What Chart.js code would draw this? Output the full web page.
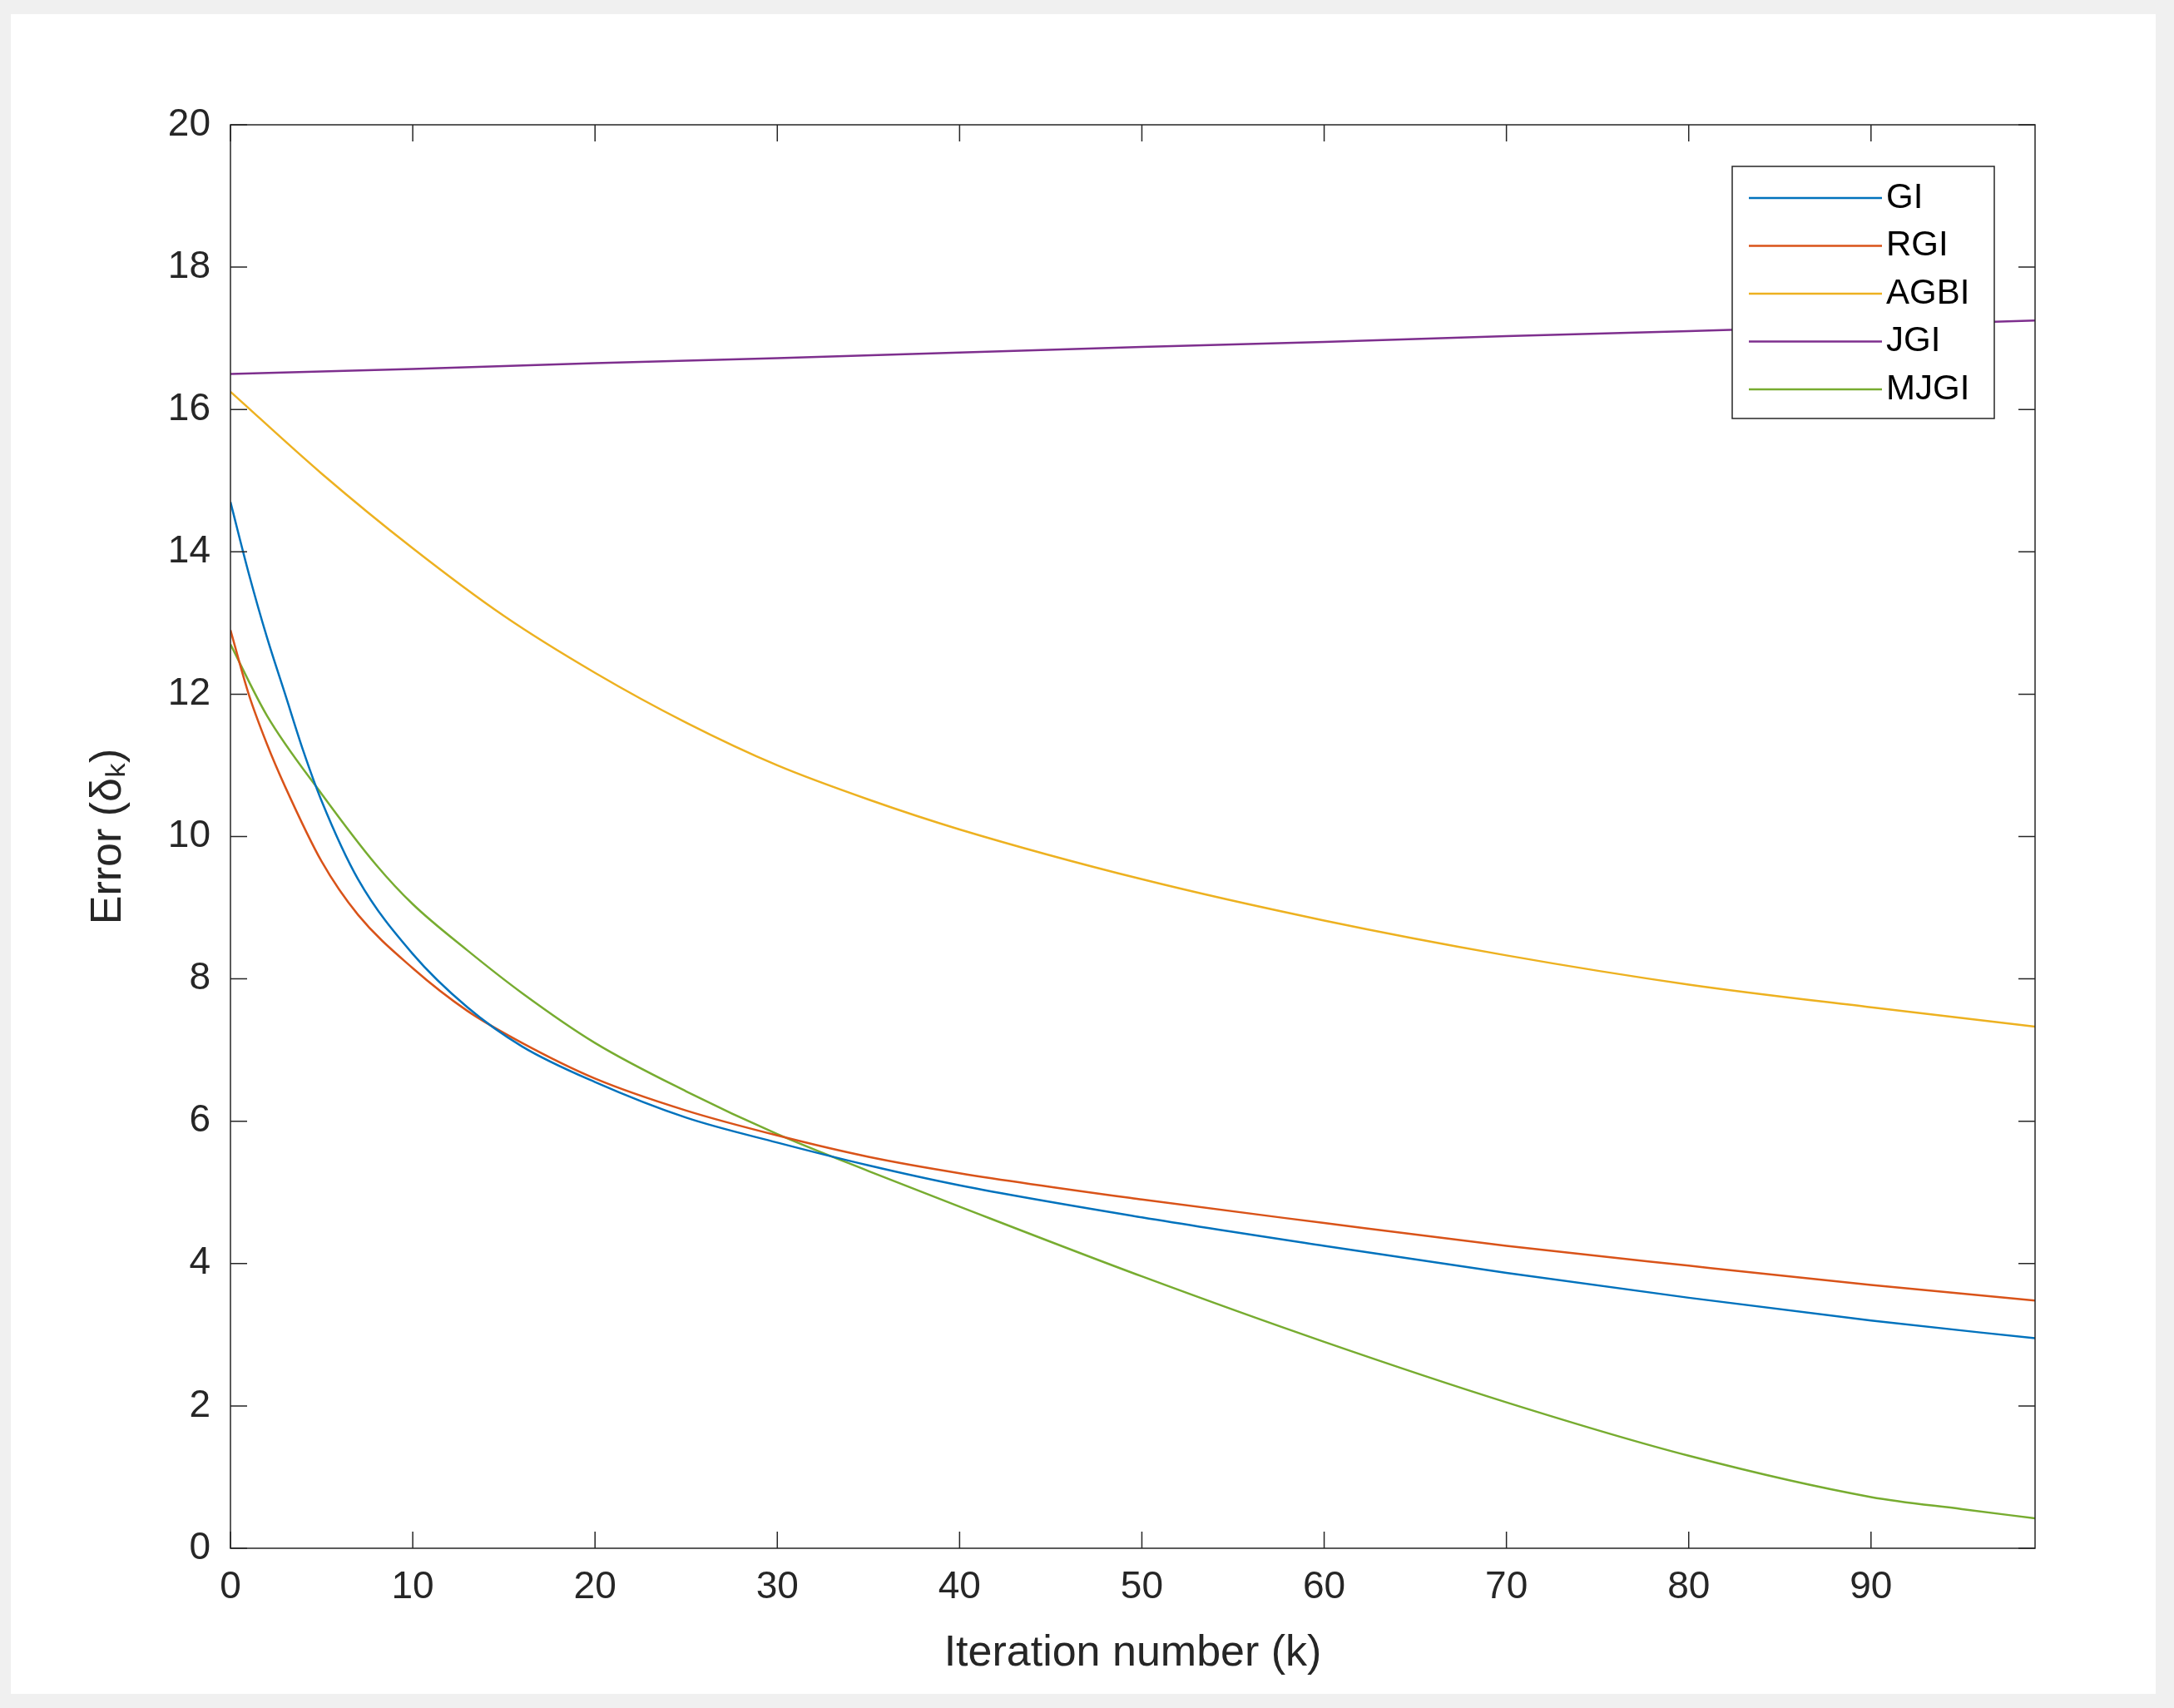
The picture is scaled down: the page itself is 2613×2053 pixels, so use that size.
<!DOCTYPE html>
<html><head><meta charset="utf-8">
<script src="https://cdn.jsdelivr.net/npm/chart.js@4.4.1/dist/chart.umd.min.js"></script>
<style>html,body{margin:0;padding:0;background:#f0f0f0}#c{display:block}</style>
</head><body><canvas id="c" width="2613" height="2053"></canvas>
<script>
const seriesNames = ['GI','RGI','AGBI','JGI','MJGI'];
const seriesColors = ['#0072BD','#D95319','#EDB120','#7E2F8E','#77AC30'];
const kGI   = [0,1,2,3,4,5,7,10,13,16,20,25,30,35,40,50,60,70,80,90,99];
const vGI   = [14.7,13.7,12.8,12.0,11.2,10.5,9.4,8.35,7.6,7.05,6.55,6.05,5.7,5.38,5.1,4.65,4.25,3.87,3.52,3.2,2.95];
const kRGI  = [0,1,2,3,5,7,10,13,16,20,25,30,35,40,50,60,70,80,90,99];
const vRGI  = [12.9,12.0,11.3,10.7,9.65,8.9,8.15,7.55,7.1,6.6,6.15,5.8,5.5,5.27,4.9,4.57,4.25,3.97,3.7,3.48];
const kAGBI = [0,5,10,15,20,25,30,35,40,50,60,70,80,90,99];
const vAGBI = [16.25,15.1,14.05,13.1,12.3,11.6,11.0,10.52,10.1,9.4,8.82,8.33,7.92,7.6,7.33];
const kJGI  = [0,10,20,30,40,50,60,70,80,90,99];
const vJGI  = [16.5,16.57,16.65,16.72,16.8,16.88,16.95,17.03,17.1,17.18,17.25];
const kMJGI = [0,2,5,8,10,13,16,20,25,30,35,40,50,60,70,80,90,95,99];
const vMJGI = [12.7,11.7,10.6,9.6,9.05,8.4,7.8,7.1,6.42,5.82,5.3,4.8,3.82,2.9,2.05,1.3,0.72,0.55,0.42];
const xTicks = [0,10,20,30,40,50,60,70,80,90];
const yTicks = [0,2,4,6,8,10,12,14,16,18,20];

const ks=[kGI,kRGI,kAGBI,kJGI,kMJGI], vs=[vGI,vRGI,vAGBI,vJGI,vMJGI];
const datasets = seriesNames.map((n,i)=>({label:n,data:ks[i].map((k,j)=>({x:k,y:vs[i][j]})),
  borderColor:seriesColors[i],borderWidth:2.5,pointRadius:0,fill:false,cubicInterpolationMode:'monotone'}));
const FONT='"Liberation Sans", Arial, sans-serif';
const deco={id:'deco',
 beforeDraw(c){const x=c.ctx;x.save();x.fillStyle='#f0f0f0';x.fillRect(0,0,c.width,c.height);
   x.fillStyle='#fff';x.fillRect(13,17,2578,2019);x.restore();},
 afterDraw(c){const x=c.ctx,a=c.chartArea,sx=c.scales.x,sy=c.scales.y;x.save();
   x.strokeStyle='#262626';x.lineWidth=1.5;x.strokeRect(a.left,a.top,a.right-a.left,a.bottom-a.top);
   const L=20;x.beginPath();
   xTicks.forEach(t=>{const p=sx.getPixelForValue(t);x.moveTo(p,a.bottom);x.lineTo(p,a.bottom-L);x.moveTo(p,a.top);x.lineTo(p,a.top+L);});
   yTicks.forEach(t=>{const p=sy.getPixelForValue(t);x.moveTo(a.left,p);x.lineTo(a.left+L,p);x.moveTo(a.right,p);x.lineTo(a.right-L,p);});
   x.stroke();
   const bx=2082,by=200,bw=315,bh=303;x.fillStyle='#fff';x.fillRect(bx,by,bw,bh);x.strokeRect(bx,by,bw,bh);
   x.font='42px '+FONT;x.textBaseline='middle';
   c.data.datasets.forEach((d,i)=>{const yy=by+38+i*57.5;x.strokeStyle=d.borderColor;x.lineWidth=2.5;
     x.beginPath();x.moveTo(bx+20,yy);x.lineTo(bx+180,yy);x.stroke();x.fillStyle='#000';x.fillText(d.label,bx+185,yy);});
   x.restore();}};
new Chart(document.getElementById('c'),{type:'line',data:{datasets},plugins:[deco],
 options:{responsive:false,animation:false,layout:{padding:{top:150,right:167,left:95,bottom:30}},
  plugins:{legend:{display:false},tooltip:{enabled:false}},
  scales:{
   x:{type:'linear',min:0,max:99,grid:{display:false},border:{display:false},
      afterBuildTicks:s=>{s.ticks=xTicks.map(v=>({value:v}));},
      afterFit:s=>{s.height=162;},
      ticks:{color:'#262626',font:{size:46,family:FONT},padding:12,maxRotation:0},
      title:{display:true,text:'Iteration number (k)',color:'#262626',font:{size:52,family:FONT},padding:{top:4}}},
   y:{type:'linear',min:0,max:20,grid:{display:false},border:{display:false},
      afterBuildTicks:s=>{s.ticks=yTicks.map(v=>({value:v}));},
      afterFit:s=>{s.width=182;},
      ticks:{color:'#262626',font:{size:46,family:FONT},padding:16},
      title:{display:true,text:'Error (δₖ)',color:'#262626',font:{size:52,family:FONT},padding:{bottom:4}}}
  }}});
</script></body></html>
